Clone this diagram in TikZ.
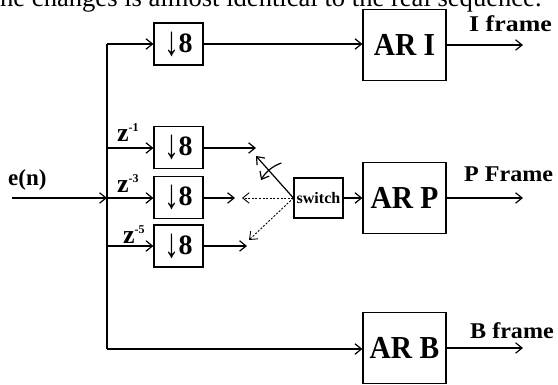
\documentclass[tikz,border=0pt]{standalone}
\usepackage{fontspec}
\setmainfont{Liberation Serif}
\usepackage{graphicx}
\usetikzlibrary{arrows.meta}

% down-sampler symbol
\newcommand{\downeight}{{\fontsize{26}{26}\selectfont
  \raisebox{-3pt}{\scalebox{1.15}[1.6]{↓}}\kern-0.5pt{\fontsize{28}{28}\selectfont\textbf{8}}}}
% delay label z^{-k}
\newcommand{\zdelay}[1]{\textbf{z}\raisebox{10pt}{\fontsize{12}{12}\selectfont\textbf{-#1}}}

\begin{document}
\begin{tikzpicture}[x=1pt,y=1pt,
  tip/.style={-{Straight Barb[length=6.5pt,width=10.5pt]}},
  wire/.style={line width=1.2pt},
  arr/.style={wire,tip},
  dots/.style={line width=0.9pt,dash pattern=on 2pt off 1.6pt,tip},
  box/.style={draw,line width=1.2pt,inner sep=0pt},
  dsbox/.style={box,minimum width=49pt,minimum height=42pt},
  arbox/.style={box,minimum width=83pt,minimum height=71pt,
    font=\bfseries\fontsize{32}{32}\selectfont},
  swbox/.style={box,minimum width=49pt,minimum height=40pt,
    font=\bfseries\fontsize{16}{16}\selectfont},
  lbl/.style={inner sep=0pt,anchor=base west},
  framelbl/.style={lbl,font=\bfseries\fontsize{22.5}{22.5}\selectfont},
  zlbl/.style={lbl,font=\fontsize{26}{26}\selectfont}
]
\useasboundingbox (0,0) rectangle (558,385);
\clip (0,0) rectangle (558,385);

% running text line above the figure
\node[lbl,font=\fontsize{26.6}{30}\selectfont] (txt) at (0,378.5)
  {he changes is almost identical to the real sequence.};

% input
\node[lbl,font=\bfseries\fontsize{23}{23}\selectfont] (en) at (8,199) {e(n)};
\coordinate (ein) at (12,187);

% distribution bus
\coordinate (btop) at (107,341);
\coordinate (b1) at (107,237);
\coordinate (b2) at (107,187);
\coordinate (b3) at (107,139);
\coordinate (bbot) at (107,36);
\draw[wire] (btop) -- (bbot);

% down-samplers
\node[dsbox] (d0) at (178.5,341) {\downeight};
\node[dsbox] (d1) at (178.5,237.5) {\downeight};
\node[dsbox] (d2) at (178.5,187.5) {\downeight};
\node[dsbox] (d3) at (178.5,139) {\downeight};

% delay labels
\node[zlbl] (z1) at (117,243) {\zdelay{1}};
\node[zlbl] (z3) at (117,192) {\zdelay{3}};
\node[zlbl] (z5) at (123,141) {\zdelay{5}};

% switch and AR models
\node[swbox] (sw) at (318.5,187) {switch};
\node[arbox] (ari) at (404.5,340) {\scalebox{0.92}[1]{AR I}};
\node[arbox] (arp) at (404.5,187) {\scalebox{0.92}[1]{AR P}};
\node[arbox] (arb) at (404.5,37) {\scalebox{0.92}[1]{AR B}};

% output labels
\node[framelbl] (li) at (469,353) {\scalebox{1.15}[1]{I frame}};
\node[framelbl] (lp) at (464,203) {\scalebox{1.07}[1]{P Frame}};
\node[framelbl] (lb) at (470,46) {\scalebox{1.07}[1]{B frame}};

% free ends
\coordinate (oi) at (523,340);
\coordinate (op) at (523,187);
\coordinate (ob) at (523,37);
\coordinate (e1) at (256,237);
\coordinate (e2) at (235,187);
\coordinate (e3) at (247,139);
\coordinate (s1) at (256,229);
\coordinate (s2) at (242,187);
\coordinate (s3) at (249,145);

% input and bus taps
\draw[arr] (ein) -- (b2);
\draw[arr] (btop) -- (d0.west);
\draw[arr] (b1) -- (d1.west |- b1);
\draw[arr] (b2) -- (d2.west |- b2);
\draw[arr] (b3) -- (d3.west |- b3);
\draw[arr] (bbot) -- (arb.west |- bbot);

% down-sampler outputs
\draw[arr] (d0.east |- btop) -- (ari.west |- btop);
\draw[arr] (d1.east |- e1) -- (e1);
\draw[arr] (d2.east |- e2) -- (e2);
\draw[arr] (d3.east |- e3) -- (e3);

% switch positions
\draw[arr] (sw.west) -- (s1);
\draw[dots] (sw.west) -- (s2);
\draw[dots] (sw.west) -- (s3);
\draw[arr] ([shift={(109:37)}]sw.west) arc[start angle=109,end angle=151,radius=37];
\draw[arr] (sw.east) -- (arp.west);

% outputs
\draw[arr] (ari.east |- oi) -- (oi);
\draw[arr] (arp.east) -- (op);
\draw[arr] (arb.east) -- (ob);
\end{tikzpicture}
\end{document}
